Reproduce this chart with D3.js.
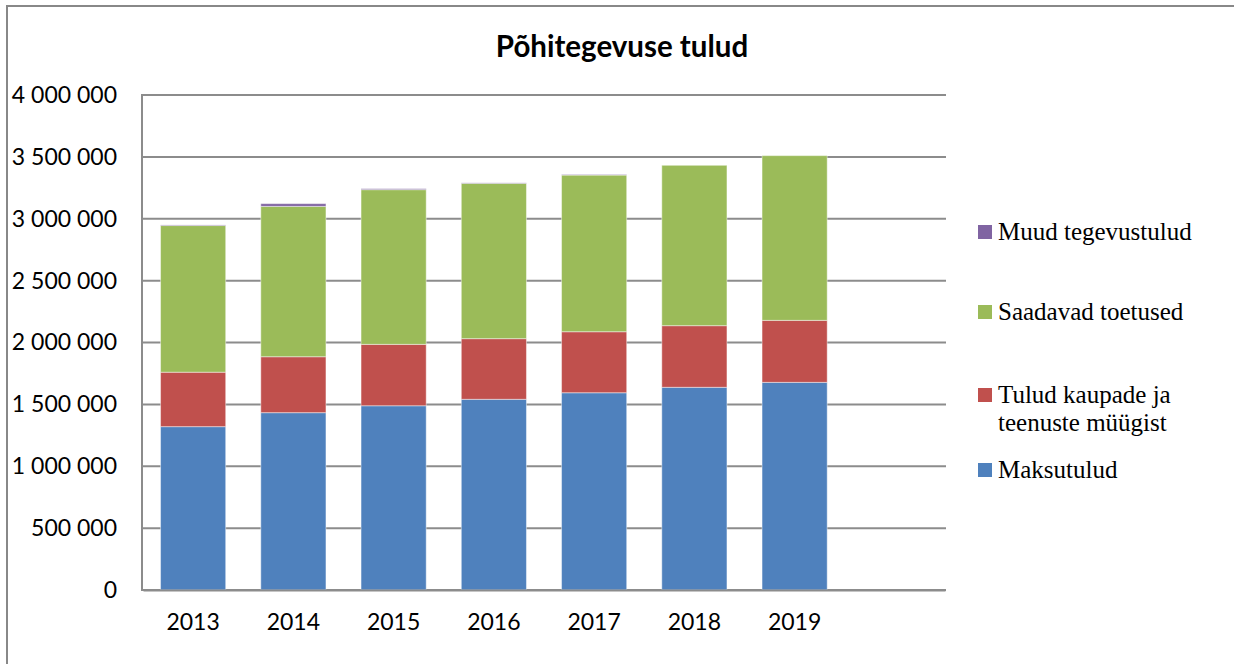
<!DOCTYPE html>
<html>
<head>
<meta charset="utf-8">
<script src="https://cdn.jsdelivr.net/npm/d3@7"></script>
<style>
  body { margin: 0; background: #fff; }
  svg { display: block; }
</style>
</head>
<body>
<svg id="chart"></svg>
<script>
// chart data
const years = ['2013', '2014', '2015', '2016', '2017', '2018', '2019', ''];
const maksutulud = [1320000, 1433000, 1489000, 1541000, 1594000, 1638000, 1678000, 0];
const kaubadTeenused = [440000, 452000, 496000, 490000, 493000, 498000, 501000, 0];
const toetused = [1185000, 1215000, 1250000, 1255000, 1266000, 1296000, 1331000, 0];
const muudTulud = [5000, 22000, 8000, 4000, 4000, 0, 0, 0];
const yTicks = [0, 500000, 1000000, 1500000, 2000000, 2500000, 3000000, 3500000, 4000000];

const seriesNames = ['Maksutulud', 'Tulud kaupade ja teenuste müügist', 'Saadavad toetused', 'Muud tegevustulud'];
const seriesColors = ['#4f81bd', '#c0504d', '#9bbb59', '#8064a2'];

const width = 1234, height = 664;
const margin = {top: 95, right: 289, bottom: 74, left: 143};

const svg = d3.select('#chart')
    .attr('width', width)
    .attr('height', height);

// outer frame (only left and top edges are visible)
svg.append('path')
    .attr('d', `M7,${height} L7,6 L${width},6`)
    .attr('fill', 'none')
    .attr('stroke', '#888')
    .attr('stroke-width', 2);

const table = years.map((y, i) => ({
  year: y,
  s0: maksutulud[i],
  s1: kaubadTeenused[i],
  s2: toetused[i],
  s3: muudTulud[i]
}));
const keys = ['s0', 's1', 's2', 's3'];
const stacked = d3.stack().keys(keys)(table);

const x = d3.scaleBand()
    .domain(years)
    .range([margin.left, width - margin.right])
    .paddingInner(0.35)
    .paddingOuter(0.175);

const y = d3.scaleLinear()
    .domain([0, 4000000])
    .range([height - margin.bottom, margin.top]);

const fmt = d3.formatLocale({decimal: ',', thousands: ' ', grouping: [3], currency: ['', '']}).format(',');

// gridlines
svg.append('g')
  .selectAll('line')
  .data(yTicks)
  .join('line')
    .attr('x1', margin.left)
    .attr('x2', width - margin.right + 1)
    .attr('y1', d => y(d))
    .attr('y2', d => y(d))
    .attr('stroke', '#8c8c8c')
    .attr('stroke-width', 2);

// y axis line
svg.append('line')
    .attr('x1', margin.left - 1)
    .attr('x2', margin.left - 1)
    .attr('y1', margin.top - 1)
    .attr('y2', height - margin.bottom + 1)
    .attr('stroke', '#8c8c8c')
    .attr('stroke-width', 2);

// y tick labels
const yAxis = d3.axisLeft(y)
    .tickValues(yTicks)
    .tickSize(0)
    .tickPadding(26)
    .tickFormat(fmt);

svg.append('g')
    .attr('transform', `translate(${margin.left},0)`)
    .call(yAxis)
    .call(g => g.select('.domain').remove())
    .call(g => g.selectAll('text')
        .attr('font-family', 'Lato, sans-serif')
        .attr('font-size', 23)
        .attr('fill', '#000'));

// bars
svg.append('g')
  .selectAll('g')
  .data(stacked)
  .join('g')
    .attr('fill', (d, i) => seriesColors[i])
  .selectAll('rect')
  .data(d => d.filter(p => p[1] - p[0] > 0))
  .join('rect')
    .attr('x', d => x(d.data.year))
    .attr('width', x.bandwidth())
    .attr('y', d => y(d[1]))
    .attr('height', d => y(d[0]) - y(d[1]))
    .attr('stroke', 'rgba(255,255,255,0.45)')
    .attr('stroke-width', 1);

// x axis
const xAxis = d3.axisBottom(x)
    .tickSize(0)
    .tickPadding(24);

svg.append('g')
    .attr('transform', `translate(0,${height - margin.bottom})`)
    .call(xAxis)
    .call(g => g.select('.domain')
        .attr('stroke', '#8c8c8c')
        .attr('stroke-width', 2))
    .call(g => g.selectAll('text')
        .attr('font-family', 'Lato, sans-serif')
        .attr('font-size', 23)
        .attr('fill', '#000'));

// title
svg.append('text')
    .attr('x', 622)
    .attr('y', 57)
    .attr('text-anchor', 'middle')
    .attr('font-family', 'Lato, sans-serif')
    .attr('font-weight', 700)
    .attr('font-size', 29.5)
    .text('Põhitegevuse tulud');

// legend, top entry is the last series
const legendRows = [
  {idx: 3, lines: ['Muud tegevustulud'], y: 240},
  {idx: 2, lines: ['Saadavad toetused'], y: 320},
  {idx: 1, lines: ['Tulud kaupade ja', 'teenuste müügist'], y: 403},
  {idx: 0, lines: ['Maksutulud'], y: 478}
];

const legend = svg.append('g');
legendRows.forEach(r => {
  legend.append('rect')
      .attr('x', 978)
      .attr('y', r.y - 15)
      .attr('width', 14)
      .attr('height', 14)
      .attr('fill', seriesColors[r.idx]);
  r.lines.forEach((line, j) => {
    legend.append('text')
        .attr('x', 998)
        .attr('y', r.y + j * 28)
        .attr('font-family', '"Liberation Serif", "Times New Roman", serif')
        .attr('font-size', 25)
        .attr('fill', '#000')
        .text(line);
  });
});
</script>
</body>
</html>
